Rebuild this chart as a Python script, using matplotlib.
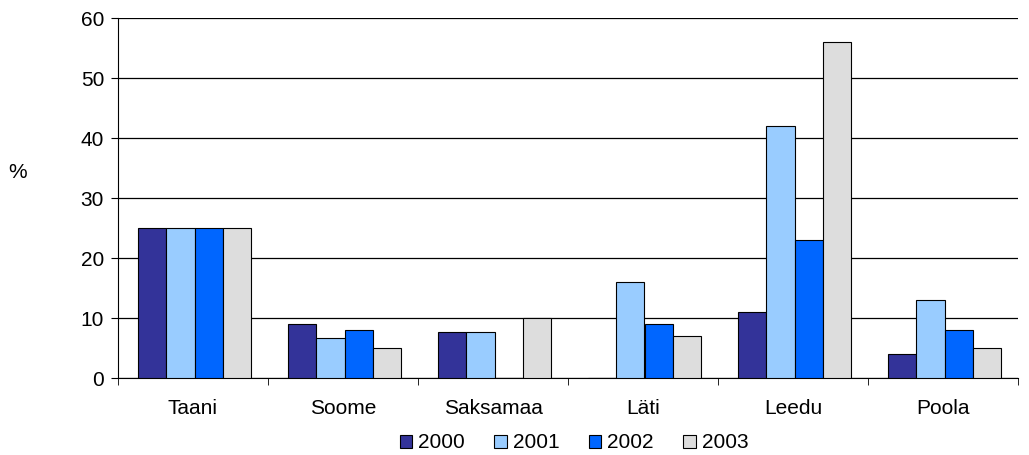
import numpy as np
import matplotlib.pyplot as plt

plt.rcParams['font.family'] = ['Liberation Sans', 'DejaVu Sans']

countries = ['Taani', 'Soome', 'Saksamaa', 'Läti', 'Leedu', 'Poola']
years = ['2000', '2001', '2002', '2003']
v2000 = [25, 9, 7.7, 0, 11, 4]
v2001 = [25, 6.6, 7.7, 16, 42, 13]
v2002 = [25, 8, 0, 9, 23, 8]
v2003 = [25, 5, 10, 7, 56, 5]
series = [v2000, v2001, v2002, v2003]
colors = ['#333399', '#99CCFF', '#0066FF', '#DDDDDD']
fs = 15

fig = plt.figure(figsize=(10.29, 4.55), dpi=100)
ax = fig.add_axes([118 / 1029, 1 - 378 / 455, 900 / 1029, 360 / 455])

x = np.arange(len(countries))
w = 0.1867
for i, (vals, c) in enumerate(zip(series, colors)):
    ax.bar(x + (i - 1.5) * w + 0.01, vals, w, color=c, edgecolor='black',
           linewidth=0.8, label=years[i], zorder=3)

ax.set_xlim(-0.5, len(countries) - 0.5)
ax.set_ylim(0, 60)
ax.set_yticks(range(0, 61, 10))
ax.yaxis.grid(True, color='black', linewidth=0.9, zorder=0)
ax.set_xticks(x)
ax.set_xticklabels(countries, fontsize=fs)
ax.tick_params(axis='x', length=0, pad=15)
ax.set_xticks(np.arange(len(countries) + 1) - 0.5, minor=True)
ax.tick_params(axis='x', which='minor', length=5, direction='out')
ax.tick_params(axis='y', labelsize=fs, length=5, direction='out', pad=5)
for s in ['top', 'right']:
    ax.spines[s].set_visible(False)

# unit label sits far to the left, level with the 35 % line
fig.text(18 / 1029, 1 - 172 / 455, '%', fontsize=fs, ha='center', va='center')

ax.legend(loc='center', bbox_to_anchor=(574 / 1029, 1 - 443 / 455), bbox_transform=fig.transFigure,
          ncol=4, frameon=False, fontsize=fs, handlelength=0.6, handleheight=0.6,
          handletextpad=0.3, columnspacing=1.4)

plt.savefig('out.png', dpi=100)
